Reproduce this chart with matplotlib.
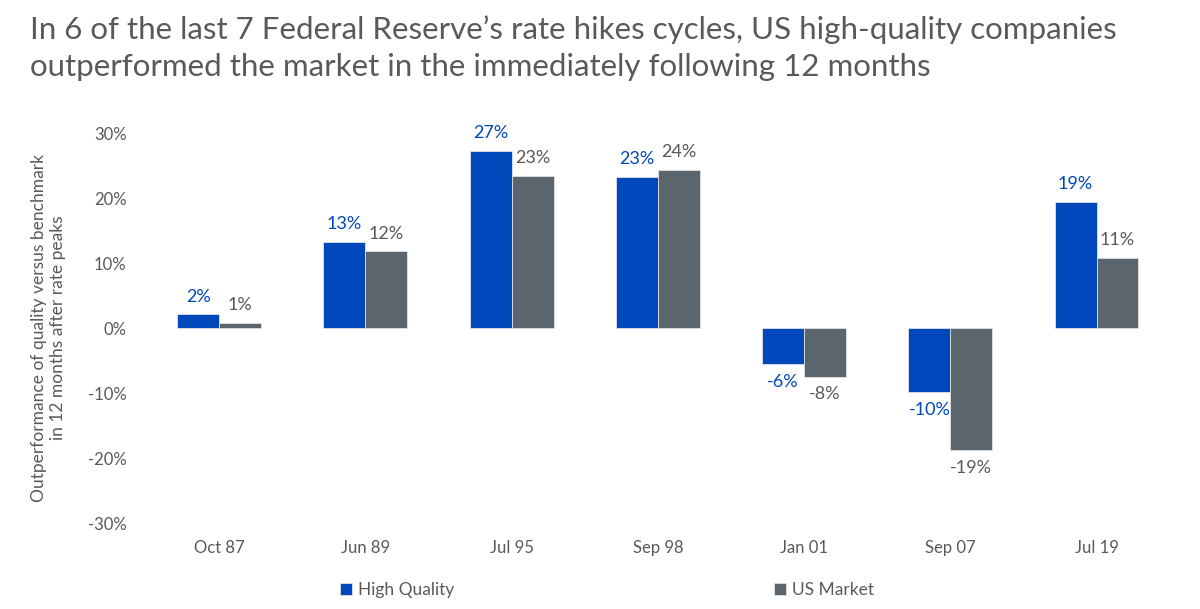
import matplotlib.pyplot as plt
import numpy as np

plt.rcParams['font.family'] = ['Lato', 'DejaVu Sans']

# 数据（从图中读取，单位 %）
dates = ['Oct 87', 'Jun 89', 'Jul 95', 'Sep 98', 'Jan 01', 'Sep 07', 'Jul 19']
high_quality = [2.1, 13.3, 27.2, 23.3, -5.6, -9.9, 19.4]
us_market = [0.8, 11.8, 23.4, 24.3, -7.5, -18.8, 10.8]

blue = '#0047BB'
grey = '#5B656D'
txt = '#595959'

fig = plt.figure(figsize=(12, 6.09), dpi=100)
ax = fig.add_axes([0.1217, 0.1412, 0.853, 0.6404])

x = np.arange(len(dates))
w = 0.287
b1 = ax.bar(x - w/2, high_quality, w, color=blue, edgecolor='#dfe3e8', linewidth=0.6, label='High Quality')
b2 = ax.bar(x + w/2, us_market, w, color=grey, edgecolor='#dfe3e8', linewidth=0.6, label='US Market')

ax.bar_label(b1, labels=['{:.0f}%'.format(v) for v in high_quality], padding=7, color=blue, fontsize=13)
ax.bar_label(b2, labels=['{:.0f}%'.format(v) for v in us_market], padding=7, color=txt, fontsize=13)

ax.set_xlim(-0.5, len(dates) - 0.5)
ax.set_ylim(-30, 30)
ax.set_yticks(np.arange(-30, 31, 10))
ax.set_yticklabels(['{}%'.format(v) for v in range(-30, 31, 10)])
ax.set_xticks(x)
ax.set_xticklabels(dates)
ax.tick_params(length=0, labelsize=12, labelcolor=txt)
ax.tick_params(axis='x', pad=12)
ax.tick_params(axis='y', pad=14)
for s in ax.spines.values():
    s.set_visible(False)

ax.set_ylabel('Outperformance of quality versus benchmark\nin 12 months after rate peaks',
              fontsize=12.5, color=txt, labelpad=16)

fig.text(0.025, 0.975,
         'In 6 of the last 7 Federal Reserve\u2019s rate hikes cycles, US high-quality companies\n'
         'outperformed the market in the immediately following 12 months',
         fontsize=22.5, color=txt, va='top', ha='left', linespacing=1.4)

fig.legend(handles=[b1, b2], loc='center left', bbox_to_anchor=(0.27, 0.031), ncol=2,
           frameon=False, fontsize=12.5, labelcolor=txt, handlelength=0.7, handleheight=0.7,
           handletextpad=0.35, columnspacing=18.4)

fig.savefig('out.png', dpi=100)
